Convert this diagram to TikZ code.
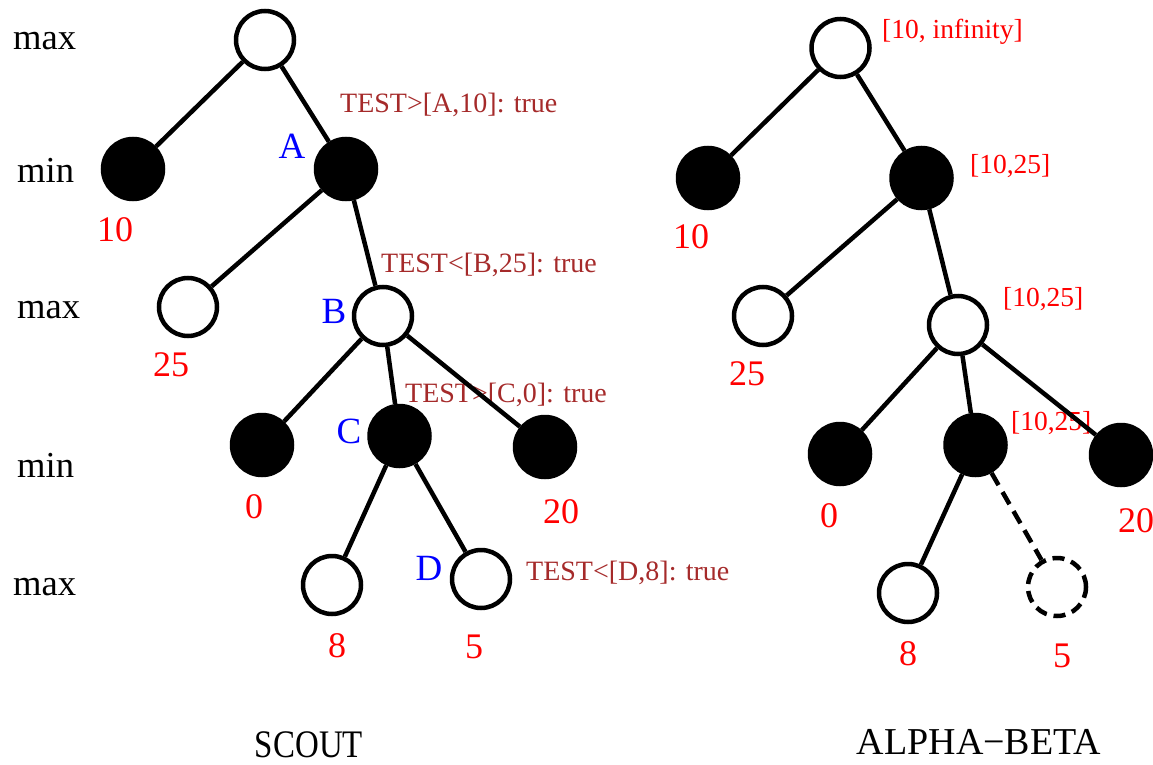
\documentclass[tikz,border=0pt]{standalone}
\usepackage{fontspec}
\setmainfont{Liberation Serif}
\definecolor{testbrown}{HTML}{A52A2A}
\tikzset{
  tnode/.style={circle, minimum size=58pt, inner sep=0pt, line width=4.5pt, draw=black},
  maxn/.style={tnode, fill=white},
  minn/.style={tnode, fill=black, minimum size=60pt},
  prunedn/.style={tnode, fill=white, dash pattern=on 12pt off 7pt},
  edge/.style={line width=4.5pt},
  prunededge/.style={edge, dash pattern=on 14pt off 8pt},
  lvl/.style={inner sep=0pt, anchor=base west, font=\fontsize{36.6}{40}\selectfont},
  val/.style={inner sep=0pt, anchor=base, text=red, font=\fontsize{36}{40}\selectfont},
  nm/.style={inner sep=0pt, anchor=base, text=blue, font=\fontsize{37}{40}\selectfont},
  test/.style={inner sep=0pt, anchor=base west, text=testbrown, font=\fontsize{28}{30}\selectfont},
  bound/.style={inner sep=0pt, anchor=base west, text=red, font=\fontsize{27.5}{30}\selectfont},
  titletext/.style={inner sep=0pt, anchor=base, font=\fontsize{39}{42}\selectfont},
}
\begin{document}
\begin{tikzpicture}[x=1pt, y=-1pt]
\clip (0,0) rectangle (1153,765);

% level labels
\node[lvl] (l1) at (13,50) {max};
\node[lvl] (l2) at (17,182) {min};
\node[lvl] (l3) at (17,318) {max};
\node[lvl] (l4) at (17,477) {min};
\node[lvl] (l5) at (13,595) {max};

% ---------------- SCOUT tree ----------------
\node[maxn] (sr)  at (265,40) {};
\node[minn] (s10) at (133,169) {};
\node[minn] (sA)  at (346,169) {};
\node[maxn] (s25) at (188,307) {};
\node[maxn] (sB)  at (383,316) {};
\node[minn] (s0)  at (262,445) {};
\node[minn] (sC)  at (399.5,436) {};
\node[minn] (s20) at (545,447) {};
\node[maxn] (s8)  at (332,585) {};
\node[maxn] (sD)  at (481,579) {};

\node[val] (vs10) at (115,241) {10};
\node[val] (vs25) at (171,376) {25};
\node[val] (vs0)  at (254,518) {0};
\node[val] (vs20) at (561,523) {20};
\node[val] (vs8)  at (337,657) {8};
\node[val] (vs5)  at (474,658) {5};

\node[nm] (nA) at (292,158) {A};
\node[nm] (nB) at (334,323) {B};
\node[nm] (nC) at (349,443) {C};
\node[nm] (nD) at (429,580) {D};

\node[test] (tA) at (340,113) {TEST>[A,10]: true};
\node[test] (tB) at (381,272) {TEST<[B,25]: true};
\node[test] (tC) at (405,402) {TEST>[C,0]: true};
\node[test] (tD) at (526,580) {TEST<[D,8]: true};

\draw[edge] (sr) -- (s10);
\draw[edge] (sr) -- (sA);
\draw[edge] (sA) -- (s25);
\draw[edge] (sA) -- (sB);
\draw[edge] (sB) -- (s0);
\draw[edge] (sB) -- (sC);
\draw[edge] (sB) -- (s20);
\draw[edge] (sC) -- (s8);
\draw[edge] (sC) -- (sD);

\node[titletext] (scout) at (309,757) {\scalebox{0.845}[1]{SCOUT}};

% ---------------- ALPHA-BETA tree ----------------
\node[maxn] (ar)  at (840.5,48) {};
\node[minn] (a10) at (708,178) {};
\node[minn] (aA)  at (921.5,178) {};
\node[maxn] (a25) at (763,316) {};
\node[maxn] (aB)  at (958,325) {};
\node[minn] (a0)  at (840,454) {};
\node[minn] (aC)  at (975.5,445) {};
\node[minn] (a20) at (1121,455) {};
\node[maxn] (a8)  at (908,593) {};
\node[prunedn] (a5) at (1057,587) {};

\node[val] (va10) at (691,248) {10};
\node[val] (va25) at (747,385) {25};
\node[val] (va0)  at (829,527) {0};
\node[val, anchor=base west] (va20) at (1118,532) {20};
\node[val] (va8)  at (908,665) {8};
\node[val] (va5)  at (1062,667) {5};

\node[bound] (br) at (882,39) {[10, infinity]};
\node[bound] (bA) at (970,173) {[10,25]};
\node[bound] (bB) at (1003,306) {[10,25]};
\node[bound] (bC) at (1011,430) {[10,25]};

\draw[edge] (ar) -- (a10);
\draw[edge] (ar) -- (aA);
\draw[edge] (aA) -- (a25);
\draw[edge] (aA) -- (aB);
\draw[edge] (aB) -- (a0);
\draw[edge] (aB) -- (aC);
\draw[edge] (aB) -- (a20);
\draw[edge] (aC) -- (a8);
\draw[prunededge] (aC) -- (a5);

\node[titletext, font=\fontsize{38}{42}\selectfont] (ab) at (979,754) {ALPHA−BETA};
\end{tikzpicture}
\end{document}
